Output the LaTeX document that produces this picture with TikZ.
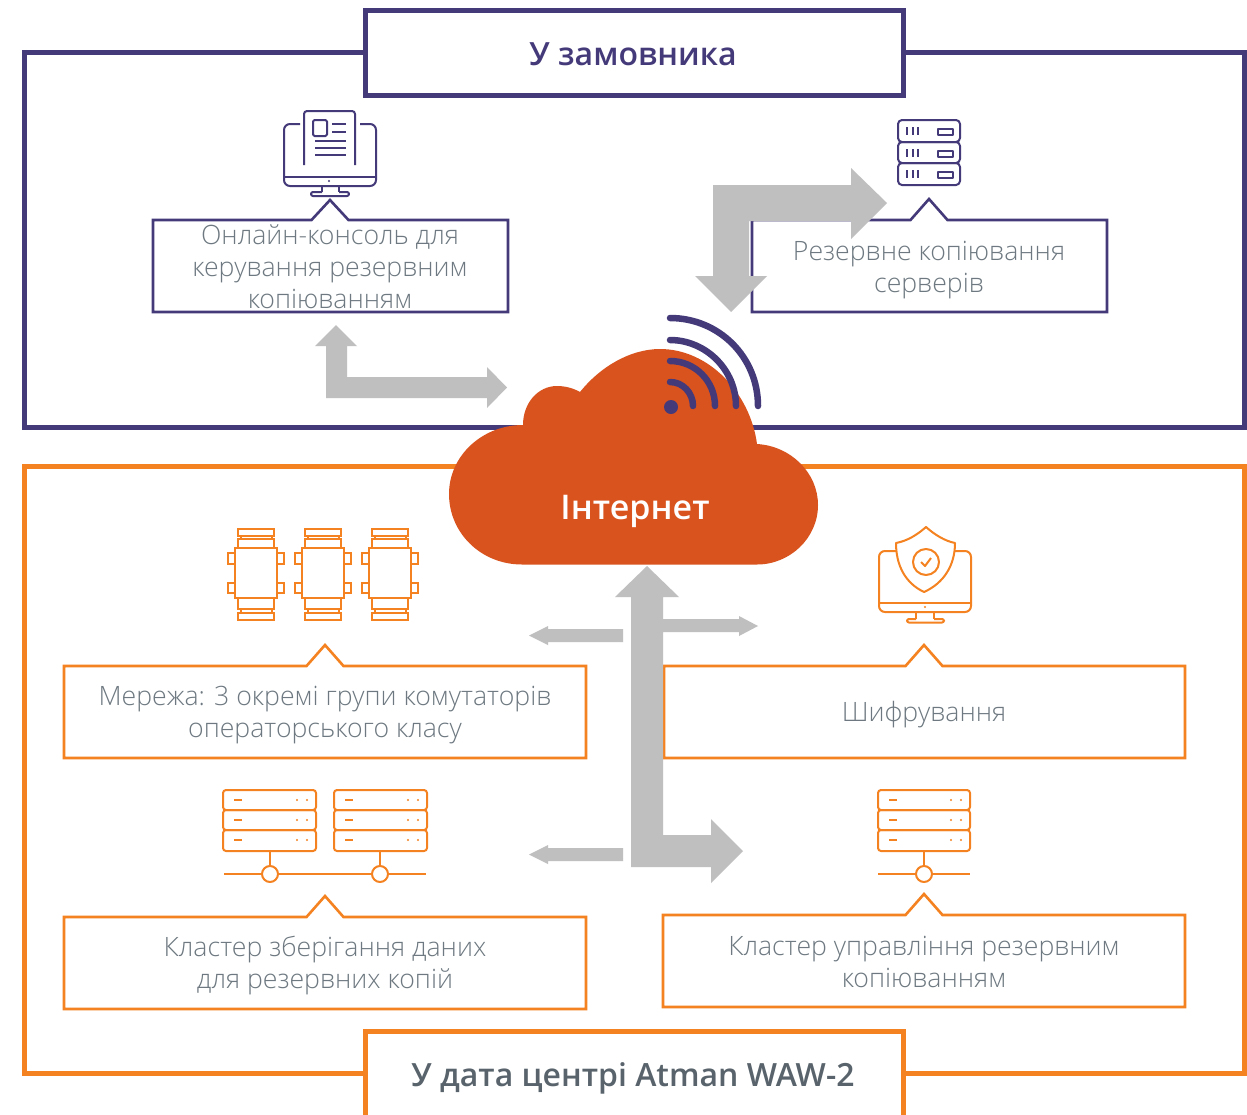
\documentclass[tikz,border=0pt]{standalone}
\usepackage{fontspec}
\setmainfont{Open Sans}
\newfontfamily\lightfont{Open Sans Light}
\IfFontExistsTF{Open Sans Semibold}{\newfontfamily\semifont{Open Sans Semibold}}{\newfontfamily\semifont{Open Sans Bold}}
\definecolor{purp}{HTML}{443A7A}
\definecolor{orng}{HTML}{F58220}
\definecolor{cloudc}{HTML}{D9531E}
\definecolor{arrowc}{HTML}{BFBFBF}
\definecolor{txtc}{HTML}{6D7880}
\definecolor{titlec}{HTML}{58636B}
\tikzset{
  framebox/.style={line width=5pt,fill=white},
  callout/.style={line width=2.6pt,fill=white,miter limit=10},
  blockarrow/.style={fill=arrowc,draw=none},
  icon/.style={line width=2pt,line join=round},
  boxtext/.style={text=txtc,align=center,font=\lightfont\fontsize{26.65}{32}\selectfont,inner sep=0pt},
  titletext/.style={align=center,font=\semifont\fontsize{32}{36}\selectfont,inner sep=0pt},
}
% callout: x1,y1,x2,y2,tip x,tip y
\newcommand\calloutshape[7]{%
  \draw[callout,draw=#7] (#1,#2) -- ({#5-18.5},#2) -- (#5,#6) -- ({#5+18.5},#2) -- (#3,#2) -- (#3,#4) -- (#1,#4) -- cycle;}
\newcommand\servrows[3]{% x1 x2 colour
  \foreach \yy/\yb in {790/810,810/830,830/851}{
    \draw[icon,draw=#3,rounded corners=3pt] (#1,\yy) rectangle (#2,\yb);
    \draw[icon,draw=#3] ({#1+11},{\yy+10}) -- ({#1+19},{\yy+10});
    \fill[#3] ({#2-19},{\yy+10}) circle[radius=1.2pt] ({#2-9},{\yy+10}) circle[radius=1.2pt];
  }}
\newcommand\switchunit[1]{%
  \begin{scope}[xshift=#1pt]
  \draw[icon,draw=orng,line join=miter]
    (235,548) rectangle (277,598)
    (238,539) rectangle (274,548)
    (241,536) rectangle (272,539)
    (238,529) rectangle (274,536)
    (238,598) rectangle (274,609)
    (241,609) rectangle (272,613)
    (238,613) rectangle (274,620)
    (228,553) rectangle (235,564)
    (228,583) rectangle (235,593)
    (277,553) rectangle (284,564)
    (277,583) rectangle (284,593);
  \end{scope}}
\begin{document}
\begin{tikzpicture}[x=1pt,y=-1pt]
\useasboundingbox (0,0) rectangle (1247,1114);
\clip (0,0) rectangle (1247,1114);
% frames
\draw[framebox,draw=purp] (24,52) rectangle (1244,427);
\draw[framebox,draw=orng] (24,466) rectangle (1244,1073);
\draw[framebox,draw=purp] (365,10) rectangle (903,95);
\draw[framebox,draw=orng] (365,1031) rectangle (903,1130);
\node[titletext,text=purp] (ttop) at (633,54) {У замовника};
\node[titletext,text=titlec] (tbottom) at (633,1078) {У дата центрі Atman WAW-2};
% callouts
\calloutshape{153}{220}{508}{312}{330}{200}{purp}
\calloutshape{752}{220}{1107}{312}{929}{199}{purp}
\calloutshape{64}{666}{586}{758}{325}{645}{orng}
\calloutshape{664}{666}{1185}{758}{924}{645}{orng}
\calloutshape{64}{917}{586}{1009}{325}{896}{orng}
\calloutshape{663}{915}{1185}{1007}{924}{894}{orng}
\node[boxtext] (console) at (330,267) {Онлайн-консоль для\\керування резервним\\копіюванням};
\node[boxtext] (backup) at (929,270) {Резервне копіювання\\серверів};
\node[boxtext] (network) at (325,715) {Мережа: 3 окремі групи комутаторів\\операторського класу};
\node[boxtext] (crypt) at (924,715) {Шифрування};
\node[boxtext] (storage) at (325,966) {Кластер зберігання даних\\для резервних копій};
\node[boxtext] (mgmt) at (924,962) {Кластер управління резервним\\копіюванням};
% purple monitor icon
\draw[icon,draw=purp,rounded corners=6pt] (300,124) -- (284,124) -- (284,186) -- (376,186) -- (376,124) -- (360,124);
\draw[icon,draw=purp] (284,177) -- (376,177);
\draw[icon,draw=purp,rounded corners=3pt] (304,165) -- (304,111) -- (355,111) -- (355,165);
\draw[icon,draw=purp,rounded corners=1.5pt] (313,120) rectangle (327,136);
\draw[icon,draw=purp] (332,124) -- (346,124) (332,132) -- (346,132) (315,141) -- (346,141) (315,148) -- (346,148) (315,155) -- (346,155);
\fill[purp] (329,181) circle[radius=1.2pt];
\draw[icon,draw=purp] (322,186) -- (322,192) (339,186) -- (339,192);
\draw[icon,draw=purp,rounded corners=2pt] (322,192) -- (311,192) -- (311,196) -- (349,196) -- (349,192) -- (339,192);
% purple server icon
\foreach \yy/\yb in {120/142,142/163,163/185}{
  \draw[icon,draw=purp,rounded corners=4pt] (898,\yy) rectangle (960,\yb);
  \draw[icon,draw=purp] (907,{\yy+7}) -- (907,{\yy+15}) (912.5,{\yy+7}) -- (912.5,{\yy+15}) (918,{\yy+7}) -- (918,{\yy+15});
  \draw[icon,draw=purp] (938,{\yy+9}) rectangle (953,{\yy+15});
}
% switches
\switchunit{0}\switchunit{67}\switchunit{134}
% shield monitor
\draw[icon,draw=orng,rounded corners=6pt] (896,551) -- (879,551) -- (879,612) -- (971,612) -- (971,551) -- (955,551);
\draw[icon,draw=orng] (879,603) -- (971,603);
\draw[icon,draw=orng] (916,612) -- (916,619) (934,612) -- (934,619);
\draw[icon,draw=orng,rounded corners=2pt] (916,619) -- (907,619) -- (907,622.5) -- (944,622.5) -- (944,619) -- (934,619);
\fill[orng] (925,607) circle[radius=1.2pt];
\draw[icon,draw=orng,fill=white] (926,527) .. controls (917,535) and (907,541) .. (896,543) .. controls (896,565) and (905,583) .. (924,592) .. controls (944,583) and (955,565) .. (955,543) .. controls (945,541) and (935,535) .. (926,527) -- cycle;
\draw[icon,draw=orng] (926,562) circle[radius=13pt];
\draw[icon,draw=orng] (921,562) -- (925,566) -- (931,558);
% servers
\servrows{223}{316}{orng}
\servrows{334}{427}{orng}
\servrows{878}{970}{orng}
\draw[icon,draw=orng] (224,874) -- (426,874) (270,851) -- (270,866) (380,851) -- (380,866) (878,874) -- (970,874) (924,851) -- (924,866);
\draw[icon,draw=orng,fill=white] (270,874) circle[radius=8pt];
\draw[icon,draw=orng,fill=white] (380,874) circle[radius=8pt];
\draw[icon,draw=orng,fill=white] (924,874) circle[radius=8pt];
% block arrows
\fill[blockarrow] (336,325) -- (357,346) -- (347,346) -- (347,377) -- (487,377) -- (487,367) -- (507,387.5) -- (487,408) -- (487,398) -- (326,398) -- (326,346) -- (315,346) -- cycle;
\fill[blockarrow] (887,203) -- (851,239) -- (851,221) -- (749,221) -- (749,276) -- (767,276) -- (731,312) -- (695,276) -- (713,276) -- (713,185) -- (851,185) -- (851,168) -- cycle;
\fill[blockarrow] (647,566) -- (679,597) -- (663,597) -- (663,619) -- (739,619) -- (739,616) -- (758,626) -- (739,636) -- (739,632) -- (663,632) -- (663,835) -- (711,835) -- (711,819) -- (743,851) -- (711,883) -- (711,867) -- (631,867) -- (631,597) -- (615,597) -- cycle;
\fill[blockarrow] (623,629) -- (623,642) -- (548,642) -- (548,645) -- (529,635.5) -- (548,626) -- (548,629) -- cycle;
\fill[blockarrow] (623,848) -- (623,861) -- (548,861) -- (548,864) -- (529,854.5) -- (548,845) -- (548,848) -- cycle;
% cloud
\fill[cloudc] (522,564.5) .. controls (481,564.5) and (449,533) .. (449,494) .. controls (449,456) and (482,425) .. (523,425)
  .. controls (523,403) and (538,386) .. (557,386) .. controls (565,386) and (573,388) .. (580,392)
  .. controls (600,367) and (630,349) .. (660,349) .. controls (708,349) and (750,392) .. (757,444)
  .. controls (791,446) and (818,473) .. (818,505) .. controls (818,538) and (790,564.5) .. (757,564.5) -- cycle;
\node[font=\semifont\fontsize{34}{36}\selectfont,text=white,inner sep=0pt] (inet) at (635,511) {Інтернет};
% wifi
\fill[purp] (671,407) circle[radius=7pt];
\draw[purp,line width=6.5pt,line cap=round]
  (670,382) .. controls (683,382) and (693,393) .. (693,406)
  (670,361) .. controls (695,361) and (715,381) .. (715,406)
  (670,340) .. controls (706,340) and (736,370) .. (736,406)
  (670,318) .. controls (719,318) and (758,357) .. (758,406);
\end{tikzpicture}
\end{document}
